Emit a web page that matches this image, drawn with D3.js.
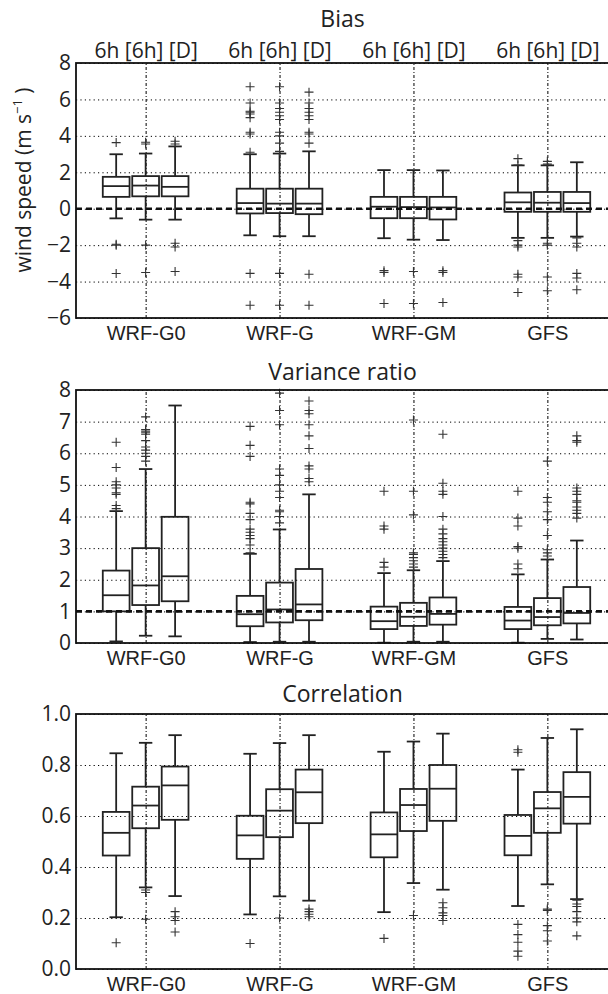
<!DOCTYPE html>
<html lang="en">
<head>
<meta charset="utf-8">
<title>Bias, variance ratio and correlation</title>
<script src="https://d3js.org/d3.v7.min.js"></script>
<style>
body { margin: 0; background: #fff; }
svg { display: block; }
</style>
</head>
<body>
<script>
// categories
const groups = ["WRF-G0", "WRF-G", "WRF-GM", "GFS"];
const leads = ["6h", "[6h]", "[D]"];
const topLabel = "6h [6h] [D]";

// each row: [lower whisker, q1, median, q3, upper whisker], 3 rows per group
const biasBoxes = [
    [-0.53, 0.65, 1.24, 1.75, 2.99], [-0.60, 0.68, 1.27, 1.79, 3.03], [-0.60, 0.68, 1.20, 1.79, 3.42],
    [-1.46, -0.26, 0.31, 1.10, 2.99], [-1.51, -0.24, 0.28, 1.10, 3.03], [-1.51, -0.30, 0.28, 1.10, 3.15],
    [-1.62, -0.52, 0.11, 0.65, 2.12], [-1.70, -0.52, 0.09, 0.65, 2.12], [-1.72, -0.59, 0.07, 0.65, 2.10],
    [-1.60, -0.17, 0.35, 0.89, 2.38], [-1.60, -0.17, 0.33, 0.92, 2.38], [-1.53, -0.17, 0.31, 0.92, 2.55]
];
const biasFliers = [
    [3.63, -2.0, -1.95, -3.56], [3.55, 3.65, -2.0, -3.5], [3.55, 3.7, -1.9, -2.1, -3.45],
    [3.1, 4.1, 4.2, 5.0, 5.2, 5.3, 5.35, 5.8, 6.7, -3.55, -5.3],
    [3.15, 3.6, 4.0, 4.2, 4.9, 5.1, 5.3, 5.5, 5.8, 6.7, -3.55, -5.3],
    [3.6, 4.1, 4.2, 4.9, 5.1, 5.3, 5.5, 5.8, 6.4, -3.6, -5.3],
    [-3.4, -3.5, -5.2], [-3.45, -5.2], [-3.4, -3.5, -5.15],
    [2.4, 2.75, -1.75, -2.0, -2.1, -3.6, -3.75, -4.6],
    [2.45, 2.6, -1.9, -2.0, -3.75, -4.5],
    [-1.6, -1.9, -2.1, -3.55, -3.8, -4.45]
];
const biasTicks = [-6, -4, -2, 0, 2, 4, 6, 8];

const varBoxes = [
    [0.05, 1.00, 1.51, 2.29, 4.17], [0.23, 1.20, 1.82, 3.00, 5.50], [0.21, 1.32, 2.11, 3.99, 7.51],
    [0.03, 0.53, 0.91, 1.49, 2.82], [0.04, 0.65, 1.06, 1.91, 3.59], [0.04, 0.72, 1.22, 2.34, 4.70],
    [0.01, 0.44, 0.69, 1.15, 2.21], [0.04, 0.54, 0.83, 1.27, 2.30], [0.04, 0.58, 0.92, 1.44, 2.59],
    [0.01, 0.44, 0.71, 1.14, 2.17], [0.13, 0.56, 0.82, 1.42, 2.64], [0.11, 0.62, 0.95, 1.77, 3.24]
];
const varFliers = [
    [4.25, 4.35, 4.7, 4.75, 4.9, 5.0, 5.1, 5.55, 6.35],
    [5.75, 5.9, 6.0, 6.1, 6.2, 6.4, 6.6, 6.65, 6.7, 6.75, 7.15],
    [],
    [2.85, 3.1, 3.3, 3.4, 3.5, 3.6, 3.9, 4.1, 4.4, 4.45, 5.9, 6.25, 6.85],
    [3.8, 4.0, 4.15, 4.2, 4.6, 4.8, 5.0, 5.3, 5.5, 6.9, 7.35, 7.9],
    [5.1, 5.2, 5.5, 5.6, 6.15, 6.55, 6.9, 7.25, 7.35, 7.65],
    [2.4, 2.55, 3.6, 3.7, 4.8],
    [2.4, 2.5, 2.6, 2.7, 2.8, 2.85, 4.05, 4.8, 7.05],
    [2.7, 2.8, 2.9, 3.0, 3.1, 3.2, 3.3, 3.45, 3.6, 4.0, 4.7, 4.8, 5.05, 6.6],
    [2.35, 2.5, 3.0, 3.05, 3.7, 3.95, 4.8],
    [2.75, 2.85, 2.95, 3.4, 3.9, 4.15, 4.45, 4.6, 5.75],
    [3.95, 4.1, 4.2, 4.3, 4.45, 4.5, 4.7, 4.8, 4.9, 6.35, 6.4, 6.55]
];
const varTicks = [0, 1, 2, 3, 4, 5, 6, 7, 8];

const corrBoxes = [
    [0.203, 0.445, 0.534, 0.616, 0.846], [0.320, 0.552, 0.641, 0.715, 0.887], [0.286, 0.585, 0.720, 0.794, 0.917],
    [0.214, 0.432, 0.524, 0.601, 0.844], [0.285, 0.517, 0.621, 0.705, 0.886], [0.268, 0.572, 0.693, 0.782, 0.917],
    [0.223, 0.438, 0.528, 0.614, 0.852], [0.337, 0.541, 0.643, 0.706, 0.892], [0.311, 0.581, 0.707, 0.800, 0.923],
    [0.247, 0.446, 0.522, 0.604, 0.782], [0.332, 0.534, 0.630, 0.694, 0.906], [0.274, 0.570, 0.675, 0.772, 0.940]
];
const corrFliers = [
    [0.103], [0.31, 0.30, 0.195], [0.225, 0.205, 0.19, 0.145],
    [0.10], [0.20], [0.235, 0.225, 0.215, 0.205],
    [0.12], [0.21], [0.26, 0.24, 0.22, 0.21, 0.19],
    [0.86, 0.85, 0.175, 0.135, 0.105, 0.07, 0.05],
    [0.235, 0.23, 0.17, 0.15, 0.11],
    [0.27, 0.255, 0.245, 0.225, 0.2, 0.185, 0.13]
];
const corrTicks = [0, 0.2, 0.4, 0.6, 0.8, 1.0];

// layout
const svgWidth = 608, svgHeight = 994;
const left = 76, right = 617;
const tickFont = "'Open Sans', sans-serif";
const catFont = "'Liberation Sans', Arial, sans-serif";
const ink = "#222";

const svg = d3.select("body").append("svg")
    .attr("width", svgWidth)
    .attr("height", svgHeight);

const x = d3.scaleLinear().domain([0.48, 4.52]).range([left, right]);
const offset = 0.22, boxW = 0.2, capW = 0.1;
const pos = (i) => (Math.floor(i / 3) + 1) + (i % 3 - 1) * offset;

function drawPanel(p) {
    const y = d3.scaleLinear().domain(p.domain).range([p.bottom, p.top]);
    const g = svg.append("g");

    // horizontal dotted grid
    g.append("g")
        .attr("transform", "translate(" + left + ",0)")
        .call(d3.axisLeft(y).tickValues(p.ticks).tickSize(-(right - left)).tickFormat(""))
        .call(a => a.select(".domain").remove())
        .selectAll("line")
        .attr("stroke", "#000").attr("stroke-width", 1).attr("stroke-dasharray", "1.2,3.2");

    // y tick labels
    g.append("g")
        .attr("transform", "translate(" + left + ",0)")
        .call(d3.axisLeft(y).tickValues(p.ticks).tickSize(0).tickPadding(5).tickFormat(p.format))
        .call(a => a.select(".domain").remove())
        .selectAll("text")
        .attr("font-family", tickFont).attr("font-size", 21).attr("fill", "#222");

    // vertical grid and group labels
    g.append("g")
        .attr("transform", "translate(0," + p.bottom + ")")
        .call(d3.axisBottom(x).tickValues([1, 2, 3, 4]).tickSize(-(p.bottom - p.top))
            .tickPadding(8).tickFormat((d, i) => groups[i]))
        .call(a => a.select(".domain").remove())
        .call(a => a.selectAll("line").attr("stroke", "#000").attr("stroke-dasharray", "3,2,1,2"))
        .selectAll("text")
        .attr("font-family", catFont).attr("font-size", 20).attr("fill", "#222");

    if (p.topLabels) {
        g.append("g")
            .attr("transform", "translate(0," + p.top + ")")
            .call(d3.axisTop(x).tickValues([1, 2, 3, 4]).tickSize(0).tickPadding(5).tickFormat(() => topLabel))
            .call(a => a.select(".domain").remove())
            .selectAll("text")
            .attr("font-family", tickFont).attr("font-size", 21).attr("fill", "#222");
    }

    // boxes
    const boxes = g.selectAll("g.box")
        .data(p.boxes)
        .join("g")
        .attr("class", "box")
        .attr("fill", "none")
        .attr("stroke", ink)
        .attr("stroke-width", 1.8);

    boxes.append("line")
        .attr("x1", (d, i) => x(pos(i))).attr("x2", (d, i) => x(pos(i)))
        .attr("y1", d => y(d[0])).attr("y2", d => y(d[1]));
    boxes.append("line")
        .attr("x1", (d, i) => x(pos(i))).attr("x2", (d, i) => x(pos(i)))
        .attr("y1", d => y(d[3])).attr("y2", d => y(d[4]));
    boxes.append("line")
        .attr("x1", (d, i) => x(pos(i) - capW / 2)).attr("x2", (d, i) => x(pos(i) + capW / 2))
        .attr("y1", d => y(d[0])).attr("y2", d => y(d[0]));
    boxes.append("line")
        .attr("x1", (d, i) => x(pos(i) - capW / 2)).attr("x2", (d, i) => x(pos(i) + capW / 2))
        .attr("y1", d => y(d[4])).attr("y2", d => y(d[4]));
    boxes.append("rect")
        .attr("x", (d, i) => x(pos(i) - boxW / 2))
        .attr("width", x(boxW) - x(0))
        .attr("y", d => y(d[3]))
        .attr("height", d => y(d[1]) - y(d[3]));
    boxes.append("line")
        .attr("x1", (d, i) => x(pos(i) - boxW / 2)).attr("x2", (d, i) => x(pos(i) + boxW / 2))
        .attr("y1", d => y(d[2])).attr("y2", d => y(d[2]));

    // fliers as plus signs
    const pts = [];
    p.fliers.forEach((arr, i) => arr.forEach(v => pts.push({ i: i, v: v })));
    g.append("g")
        .selectAll("path")
        .data(pts)
        .join("path")
        .attr("d", d => {
            const cx = x(pos(d.i)), cy = y(d.v);
            return "M" + (cx - 4.5) + "," + cy + "H" + (cx + 4.5) + "M" + cx + "," + (cy - 4.5) + "V" + (cy + 4.5);
        })
        .attr("stroke", "#333").attr("stroke-width", 1.1).attr("fill", "none");

    // reference line
    if (p.ref !== null) {
        g.append("line")
            .attr("x1", left).attr("x2", right)
            .attr("y1", y(p.ref)).attr("y2", y(p.ref))
            .attr("stroke", "#111").attr("stroke-width", 2.6).attr("stroke-dasharray", "6,4");
    }

    // frame
    g.append("rect")
        .attr("x", left).attr("y", p.top)
        .attr("width", right - left).attr("height", p.bottom - p.top)
        .attr("fill", "none").attr("stroke", "#111").attr("stroke-width", 1.8);

    // title
    svg.append("text")
        .attr("x", (left + right) / 2 - 4).attr("y", p.titleY)
        .attr("text-anchor", "middle")
        .attr("font-family", tickFont).attr("font-size", 23).attr("fill", "#222")
        .text(p.title);
}

drawPanel({
    title: "Bias", titleY: 27, top: 63, bottom: 318, domain: [-6, 8],
    ticks: biasTicks, format: d => d < 0 ? "\u2212" + Math.abs(d) : String(d),
    boxes: biasBoxes, fliers: biasFliers, ref: 0, topLabels: true
});
drawPanel({
    title: "Variance ratio", titleY: 380, top: 390, bottom: 643, domain: [0, 8],
    ticks: varTicks, format: d3.format("d"),
    boxes: varBoxes, fliers: varFliers, ref: 1, topLabels: false
});
drawPanel({
    title: "Correlation", titleY: 702, top: 714, bottom: 969, domain: [0, 1],
    ticks: corrTicks, format: d3.format(".1f"),
    boxes: corrBoxes, fliers: corrFliers, ref: null, topLabels: false
});

// y label of the first panel
const ylab = svg.append("text")
    .attr("transform", "translate(31,180) rotate(-90)")
    .attr("text-anchor", "middle")
    .attr("font-family", tickFont).attr("font-size", 21).attr("fill", "#222");
ylab.append("tspan").text("wind speed (m s");
ylab.append("tspan").attr("dy", -9).attr("font-size", 13).text("\u22121");
ylab.append("tspan").attr("dy", 9).text(" )");
</script>
</body>
</html>
